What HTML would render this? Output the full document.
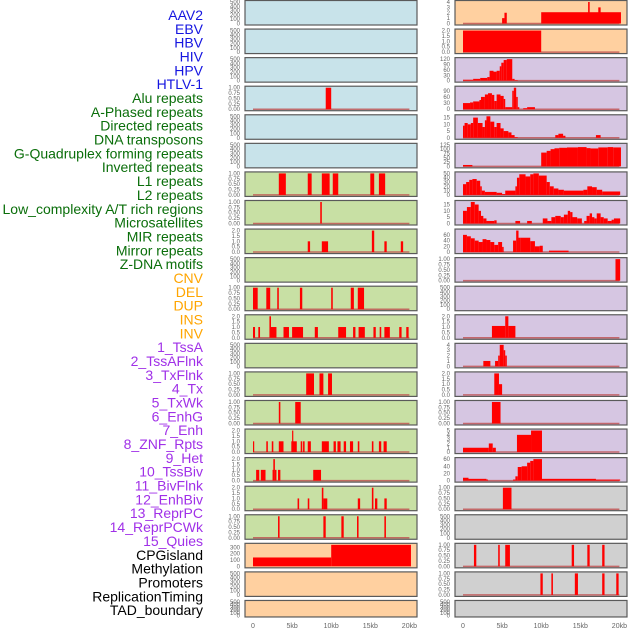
<!DOCTYPE html>
<html><head><meta charset="utf-8"><style>
body{margin:0;background:#fff;}
svg{display:block;font-family:"Liberation Sans",sans-serif;}
</style></head><body>
<svg id="chart" width="630" height="630" viewBox="0 0 630 630">
<g id="labels" font-size="14" text-anchor="end"></g>
<g id="panels"></g>
</svg>
<script>
const labelNames = ["AAV2","EBV","HBV","HIV","HPV","HTLV-1","Alu repeats","A-Phased repeats","Directed repeats","DNA transposons","G-Quadruplex forming repeats","Inverted repeats","L1 repeats","L2 repeats","Low_complexity A/T rich regions","Microsatellites","MIR repeats","Mirror repeats","Z-DNA motifs","CNV","DEL","DUP","INS","INV","1_TssA","2_TssAFlnk","3_TxFlnk","4_Tx","5_TxWk","6_EnhG","7_Enh","8_ZNF_Rpts","9_Het","10_TssBiv","11_BivFlnk","12_EnhBiv","13_ReprPC","14_ReprPCWk","15_Quies","CPGisland","Methylation","Promoters","ReplicationTiming","TAD_boundary"];
const labelGroups = [6,13,5,15,5];
const groupColors = ["#1515e0","#0a6e0a","#ffa500","#a030e8","#000000"];
const xTickValues = [0,5,10,15,20];
const xTickLabels = ["0","5kb","10kb","15kb","20kb"];
// left column
const leftBg = ["b","b","b","b","b","b","g","g","g","g","g","g","g","g","g","g","g","g","g","o","o","o"];
const leftMax = [500,500,500,1,500,500,1,1,2,500,1,2,500,1,1,2,2,2,1,340,500,500];
const leftSegs = [
 [],[],[],[[9.3,10,1]],[],[],
 [[3.3,4.2,1],[7,7.5,1],[8.8,9.8,1],[10.2,10.9,1],[15,15.5,1],[16.1,16.9,1]],
 [[8.6,8.8,1]],
 [[7,7.3,1],[8.8,9.6,1],[15.2,15.5,2],[16.8,17.1,1],[18.9,19.2,1]],
 [],
 [[0,0.6,1],[1.7,2.2,1],[3.1,3.3,1],[6,6.3,1],[10,10.2,1],[12.5,12.9,1],[13.4,14.2,1]],
 [[0,0.26,1],[0.68,0.9,1],[2.1,2.3,2],[2.3,3.0,1],[3.9,4.6,1],[5.0,6.4,1],[7.9,8.3,1],[10.9,11.9,1],[12.8,13.1,1],[13.5,14.3,1],[15.4,15.7,1],[16.2,16.4,1],[16.8,17.5,1],[18.7,19,1],[19.6,19.9,1]],
 [],
 [[6.8,7.8,1],[8.5,9.0,1],[9.6,10.1,1]],
 [[3.3,3.5,1],[5.4,6.1,1]],
 [[0,0.15,1],[1.7,1.9,1],[2.4,2.6,1],[3.3,3.9,1],[4.9,5.6,1],[5.0,5.15,2],[6.1,6.3,1],[6.4,6.6,1],[7,7.4,1],[8.8,9.7,1],[10.3,10.6,1],[10.8,11.2,1],[11.6,11.9,1],[12.4,12.8,1],[13.4,13.6,1],[15.2,15.4,1],[16.1,16.4,1],[16.7,17.1,1]],
 [[0.4,0.8,1],[1.0,1.6,1],[2.5,2.6,1],[2.6,2.8,2],[2.8,3.0,1],[3.2,3.5,1],[7.7,8.7,1]],
 [[5.7,5.9,1],[7,7.2,1],[8.8,9,2],[9,9.5,1],[13.4,13.7,1],[15.2,15.4,2],[15.6,15.9,1],[16.8,17.1,1]],
 [[3.2,3.4,1],[9,9.3,1],[11.3,11.6,1],[13.3,13.5,1],[16.8,17,1]],
 [[0,10,140],[10,20.2,340]],
 [],[]
];
// right column
const rightBg = ["o","o","p","p","p","p","p","p","p","p","p","p","p","p","p","p","p","y","y","y","y","y"];
const rightMax = [4,2,120,105,16,125,50,17,75,1,500,2,4,2,1,5,60,1,500,1,1,500];
const rightSegs = [
 [[5.0,5.3,1],[5.3,5.6,2],[10,20.2,2.1],[16,16.2,4],[17.3,17.6,3]],
 [[0,10,2]],
 [[0,1.3,5],[1.3,2.2,10],[2.2,3.1,15],[3.1,3.4,20],[3.4,3.9,55],[3.9,4.3,50],[4.3,4.7,55],[4.7,4.9,80],[4.9,5.2,100],[5.2,5.6,115],[5.6,6.3,120],[6.3,6.6,10],[6.6,7.0,3]],
 [[0,0.9,30],[0.9,1.3,33],[1.3,2.1,38],[2.1,2.3,45],[2.3,2.8,60],[2.8,3.2,72],[3.2,3.7,78],[3.7,4.0,70],[4.0,4.3,40],[4.3,4.8,72],[4.8,5.2,65],[5.2,5.4,50],[5.4,6.3,10],[6.3,6.5,90],[6.5,6.8,105],[6.8,7.0,60],[7.0,7.2,10],[7.7,8.2,5],[8.2,9.2,10]],
 [[0,0.2,9],[0.2,0.6,11],[0.6,1.0,10],[1.0,1.3,11],[1.3,1.9,15],[1.9,2.5,11],[2.5,2.8,8],[2.8,3.0,13],[3.0,3.5,16],[3.5,4.0,12],[4.0,4.3,8],[4.3,4.8,11],[4.8,5.2,7],[5.2,5.8,5],[5.8,6.2,4],[6.2,6.6,2],[6.6,7.0,0.5],[11.8,12.2,2],[12.2,12.8,3],[12.8,13.1,1.5],[17.0,17.6,2]],
 [[0,1.2,8],[10,10.7,80],[10.7,11.2,90],[11.2,11.7,100],[11.7,12.3,105],[12.3,13.3,108],[13.3,14.7,110],[14.7,15.8,112],[15.8,16.3,106],[16.3,17.3,104],[17.3,18.5,110],[18.5,19.2,112],[19.2,20.2,110]],
 [[0,0.4,25],[0.4,0.8,30],[0.8,1.2,35],[1.2,1.75,37],[1.75,2.2,33],[2.2,2.4,20],[2.4,2.8,10],[2.8,4.3,7],[4.3,5.0,5],[5.0,5.4,2],[5.4,6.7,10],[6.7,6.9,20],[6.9,7.2,40],[7.2,8.0,48],[8.0,8.6,43],[8.6,9.0,48],[9.0,9.7,50],[9.7,10.7,45],[10.7,11.1,30],[11.1,11.6,20],[11.6,12.2,15],[12.2,12.9,12],[12.9,15.4,10],[15.4,15.9,12],[15.9,16.5,20],[16.5,17.1,18],[17.1,17.8,12],[17.8,20.1,8]],
 [[0,0.5,10],[0.5,1.0,13],[1.0,1.5,17],[1.5,2.0,15],[2.0,2.3,10],[2.3,2.6,6],[2.6,3.0,4],[3.0,4.0,2],[4.0,4.3,2.5],[6.7,7.3,2],[8.2,8.8,2],[10.2,10.8,4],[10.8,11.3,2],[11.3,11.8,5],[11.8,12.5,6],[12.5,12.9,5],[12.9,13.4,7],[13.4,13.7,10],[13.7,14.0,9],[14.0,14.6,5],[14.6,15.2,4],[15.5,15.8,2],[15.8,16.2,6],[16.2,16.5,8],[16.5,16.8,5],[16.8,17.1,4],[17.1,17.6,8],[17.6,18.0,5],[18.0,18.5,4],[18.5,19.0,2],[19.0,19.3,3],[19.3,20.1,4]],
 [[0,0.5,60],[0.5,1.0,55],[1.0,1.5,48],[1.5,2.0,40],[2.0,2.5,35],[2.5,3.0,45],[3.0,3.5,42],[3.5,4.0,35],[4.0,4.5,25],[4.5,5.0,35],[5.0,5.2,18],[6.4,6.8,40],[6.8,7.1,75],[7.1,7.4,50],[7.4,8.6,50],[8.6,9.2,38],[9.2,9.8,20],[9.8,10.2,22],[11.0,13.5,5]],
 [[19.5,20.1,1]],
 [],
 [[3.7,5.4,1.1],[5.4,5.8,2],[5.8,6.7,1.1]],
 [[2.6,3.5,1],[4.1,4.5,1],[4.5,4.7,2],[4.7,5.2,4],[5.2,5.4,3],[5.4,5.6,2]],
 [[4.0,4.6,2],[4.6,5.0,1]],
 [[3.7,4.8,1]],
 [[0,3.3,1],[3.3,3.8,2],[3.8,4.2,1],[6.9,8.7,4],[8.7,10.1,5]],
 [[0,0.7,8],[0.7,3.0,5],[3.0,3.2,3],[6.4,6.7,3],[6.7,7.0,12],[7.0,7.5,38],[7.5,8.2,40],[8.2,8.6,50],[8.6,9.0,55],[9.0,10.1,60],[10.1,17.0,5],[17.0,20.1,3]],
 [[5.1,6.2,1]],
 [],
 [[1.4,1.7,1],[4.5,4.7,1],[5.4,6.0,1],[13.9,14.2,1],[15.9,16.2,1],[17.8,18.1,1]],
 [[9.9,10.2,1],[11.3,11.5,1],[14.3,14.7,1],[17.8,18.1,1],[19.6,19.9,1]],
 []
];
const tickSets = {500:[0,100,200,300,400,500],1:[0,0.25,0.5,0.75,1],2:[0,0.5,1,1.5,2],340:[0,100,200,300],
 4:[0,1,2,3,4],120:[0,30,60,90,120],105:[0,30,60,90],16:[0,5,10,15],125:[0,25,50,75,100,125],50:[0,10,20,30,40,50],17:[0,5,10,15],75:[0,20,40,60],5:[0,1,2,3,4,5],60:[0,20,40,60]};
const bgColors = {b:"#c8e3ea",g:"#c8e0a4",o:"#ffd0a0",p:"#d6c6e2",y:"#d0d0d0"};

const NS="http://www.w3.org/2000/svg";
function mk(tag,attrs,parent){const e=document.createElementNS(NS,tag);for(const k in attrs)e.setAttribute(k,attrs[k]);parent.appendChild(e);return e;}
function fmt(v,max){if(max===1)return v.toFixed(2);if(max===2)return v.toFixed(1);return String(v);}

// labels
const lg=document.getElementById('labels');
let gi=0,gc=0;
labelNames.forEach((n,k)=>{
  while(gc>=labelGroups[gi]){gi++;gc=0;}
  gc++;
  const t=mk('text',{x:203,y:15+k*13.84+5,fill:groupColors[gi]},lg);
  t.textContent=n;
  
  
});

const pg=document.getElementById('panels');
function drawPanel(col,i,bg,max,segs){
  const bx = col===0?245:455, x0 = col===0?253:463, kx=7.82, w=172;
  const top = i*28.57+0.5, h = i===21?16.5:24.5;
  const g=mk('g',{},pg);
  
  
  const box=mk('rect',{x:bx,y:top,width:w,height:h,fill:bgColors[bg],stroke:'#5a5a5a','stroke-width':1.2},g);
  
  
  const yb=top+h-1.5, yh=h-3;
  const yS=v=>yb-v/max*yh;
  const xS=kb=>Math.max(bx+0.6,Math.min(bx+w-0.6,x0+kb*kx));
  const ticks=tickSets[max]||[0,max];
  ticks.forEach(tv=>{
    const t=mk('text',{x:bx-5,y:yS(tv)+2,'font-size':6,fill:'#666','text-anchor':'end'},g);
    t.textContent=fmt(tv,max);
    
    
  });
  if(segs.length && max!==340){
    const bl=mk('line',{x1:xS(0),x2:xS(20),y1:yb,y2:yb,stroke:'#c05050','stroke-width':1.5,opacity:0.8},g);
    
    
  }
  segs.forEach(s=>{
    const xa=xS(s[0]), xb=Math.max(xS(s[1]),xa+1.2);
    const r=mk('rect',{x:xa,y:yS(Math.min(s[2],max)),width:xb-xa,height:yb-yS(Math.min(s[2],max)),fill:'#ff0000'},g);
    
    
  });
}
for(let i=0;i<22;i++){
  drawPanel(0,i,leftBg[i],leftMax[i],leftSegs[i]);
  drawPanel(1,i,rightBg[i],rightMax[i],rightSegs[i]);
}
// x axes
[253,463].forEach(x0=>{
  xTickValues.forEach((v,j)=>{
    const t=mk('text',{x:x0+v*7.82,y:628,'font-size':7,fill:'#666','text-anchor':'middle'},pg);
    t.textContent=xTickLabels[j];
    
    
  });
});
</script>
</body></html>
